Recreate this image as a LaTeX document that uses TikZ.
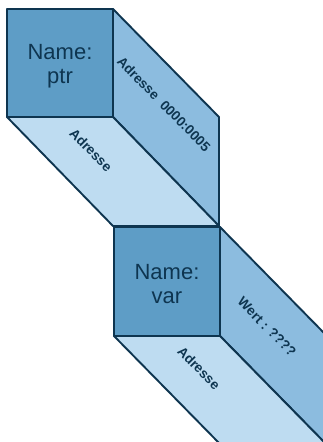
\documentclass[tikz,border=0pt]{standalone}
\usepackage{fontspec}
\setmainfont{Liberation Sans}
\definecolor{frontc}{HTML}{5E9DC6}
\definecolor{sidec}{HTML}{8CBCDF}
\definecolor{bottomc}{HTML}{BEDCF1}
\definecolor{edgec}{HTML}{0E3550}
\definecolor{txtc}{HTML}{0E3550}
\begin{document}
\begin{tikzpicture}[x=1pt,y=1pt,
  face/.style={draw=edgec, line width=1.9pt, line join=round},
  nametext/.style={text=txtc, font=\fontsize{22}{24}\selectfont, align=center, inner sep=0pt},
  facetext/.style={text=txtc, font=\bfseries\fontsize{13.6}{15}\selectfont, inner sep=0pt, rotate=-45.5}]
\useasboundingbox (0,0) rectangle (323,-442);
\clip (0,0) rectangle (323,-442);
% box 1 corners
\coordinate (a1) at (7,-9);
\coordinate (b1) at (113,-9);
\coordinate (c1) at (113,-117);
\coordinate (d1) at (7,-117);
\coordinate (e1) at (219,-117);
\coordinate (f1) at (219,-226);
\coordinate (g1) at (113,-226);
% box 2 corners
\coordinate (a2) at (114,-227);
\coordinate (b2) at (220,-227);
\coordinate (c2) at (220,-336);
\coordinate (d2) at (114,-336);
\coordinate (e2) at (326,-335);
\coordinate (f2) at (326,-444);
\coordinate (g2) at (220,-444);
% box 2 faces
\filldraw[face, fill=sidec] (b2) -- (e2) -- (f2) -- (c2) -- cycle;
\filldraw[face, fill=bottomc] (d2) -- (c2) -- (f2) -- (g2) -- cycle;
% box 1 faces
\filldraw[face, fill=sidec] (b1) -- (e1) -- (f1) -- (c1) -- cycle;
\filldraw[face, fill=bottomc] (d1) -- (c1) -- (f1) -- (g1) -- cycle;
\filldraw[face, fill=frontc] (a1) -- (b1) -- (c1) -- (d1) -- cycle;
\filldraw[face, fill=frontc] (a2) -- (b2) -- (c2) -- (d2) -- cycle;
% texts
\node[nametext] (n1) at (60,-66) {Name:\\ptr};
\node[nametext] (n2) at (167,-284) {Name:\\var};
\node[facetext] (s1) at (164,-104) {Adresse\ \ 0000:0005};
\node[facetext] (u1) at (91,-150) {Adresse};
\node[facetext] (s2) at (267,-327) {Wert : ????};
\node[facetext] (u2) at (199,-368) {Adresse};
\end{tikzpicture}
\end{document}
